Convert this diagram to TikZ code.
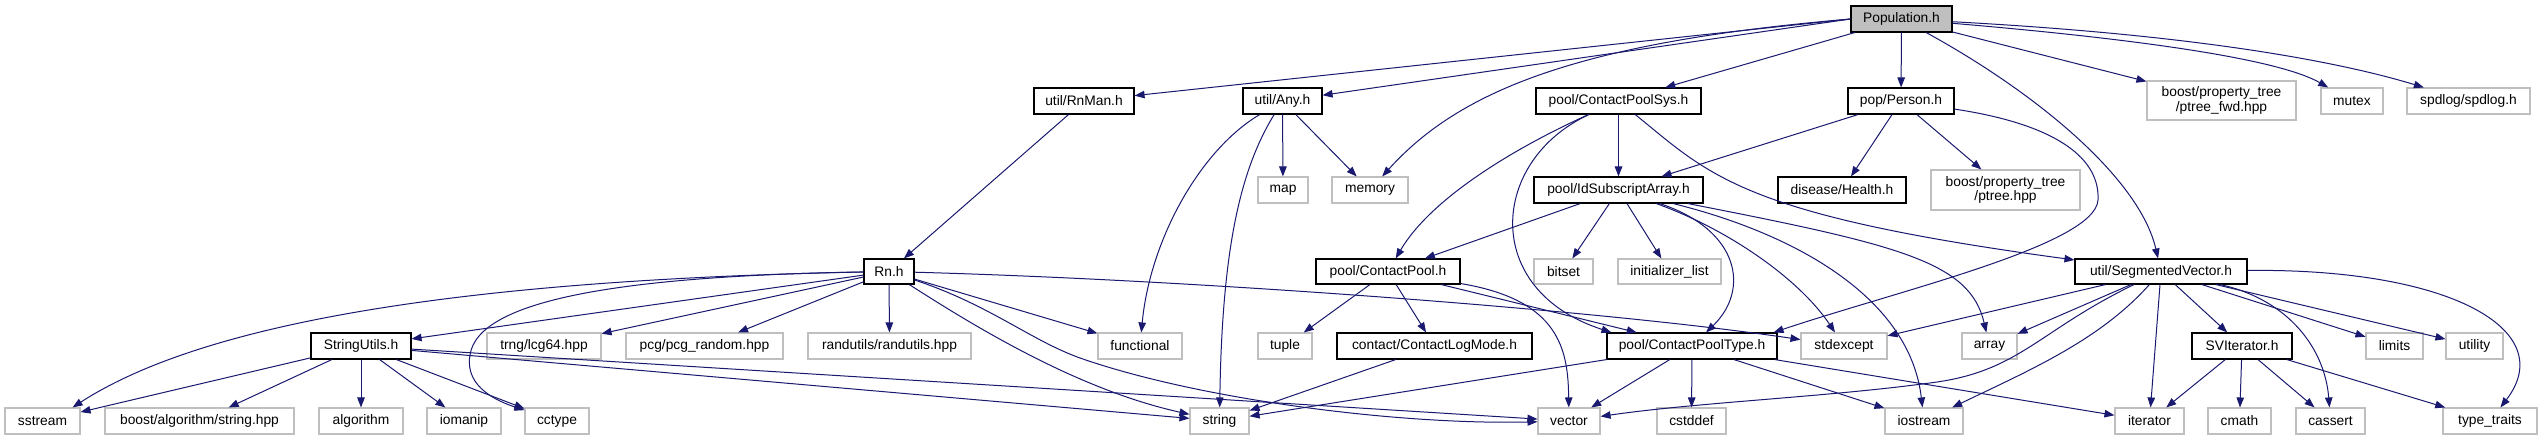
\documentclass[tikz,border=0pt]{standalone}
\usepackage{fontspec}
\setmainfont{Liberation Sans}
\usetikzlibrary{arrows.meta}
\definecolor{edgeblue}{HTML}{191970}
\definecolor{sysgray}{HTML}{BFBFBF}
\begin{document}
\begin{tikzpicture}[x=1pt,y=-1pt,
  box/.style={rectangle, inner sep=0pt, line width=1.1pt, font=\fontsize{13.8pt}{14.5pt}\selectfont, align=center},
  proj/.style={box, draw=black, fill=white},
  sys/.style={box, draw=sysgray, fill=white},
  mainf/.style={box, draw=black, fill=sysgray},
  e/.style={draw=edgeblue, line width=1pt, -{Triangle[length=10pt,width=7.5pt]}},
]
\useasboundingbox[fill=white] (0,0) rectangle (2539,440);
% row 1
\node[mainf, minimum width=101pt, minimum height=26pt] (pop) at (1901.5,19) {Population.h};
% row 2
\node[proj, minimum width=100pt, minimum height=26pt] (rnman) at (1084,101) {util/RnMan.h};
\node[proj, minimum width=79pt, minimum height=26pt] (any) at (1282.5,101) {util/Any.h};
\node[proj, minimum width=165pt, minimum height=26pt] (cps) at (1618.5,101) {pool/ContactPoolSys.h};
\node[proj, minimum width=106pt, minimum height=26pt] (person) at (1901,101) {pop/Person.h};
\node[sys, minimum width=149pt, minimum height=39pt] (ptreefwd) at (2221.5,100.5) {boost/property\_tree\\/ptree\_fwd.hpp};
\node[sys, minimum width=62pt, minimum height=26pt] (mutex) at (2352,101) {mutex};
\node[sys, minimum width=123pt, minimum height=26pt] (spdlog) at (2468.5,101) {spdlog/spdlog.h};
% row 3
\node[sys, minimum width=50pt, minimum height=26pt] (map) at (1283,190) {map};
\node[sys, minimum width=76pt, minimum height=26pt] (memory) at (1370,190) {memory};
\node[proj, minimum width=169pt, minimum height=26pt] (isa) at (1618.5,190) {pool/IdSubscriptArray.h};
\node[proj, minimum width=128pt, minimum height=26pt] (health) at (1842,190) {disease/Health.h};
\node[sys, minimum width=149pt, minimum height=40pt] (ptree) at (2005.5,190) {boost/property\_tree\\/ptree.hpp};
% row 4
\node[proj, minimum width=50pt, minimum height=25pt] (rn) at (889,271.5) {Rn.h};
\node[proj, minimum width=144pt, minimum height=25pt] (cp) at (1388,271.5) {pool/ContactPool.h};
\node[sys, minimum width=59pt, minimum height=25pt] (bitset) at (1563.5,271.5) {bitset};
\node[sys, minimum width=103pt, minimum height=25pt] (initlist) at (1669.5,271.5) {initializer\_list};
\node[proj, minimum width=172pt, minimum height=25pt] (sv) at (2161,271.5) {util/SegmentedVector.h};
% row 5
\node[proj, minimum width=100pt, minimum height=26pt] (su) at (361,346) {StringUtils.h};
\node[sys, minimum width=114pt, minimum height=26pt] (trng) at (544,346) {trng/lcg64.hpp};
\node[sys, minimum width=157pt, minimum height=26pt] (pcg) at (704.5,346) {pcg/pcg\_random.hpp};
\node[sys, minimum width=163pt, minimum height=26pt] (randutils) at (889.5,346) {randutils/randutils.hpp};
\node[sys, minimum width=84pt, minimum height=26pt] (functional) at (1140,346) {functional};
\node[sys, minimum width=54pt, minimum height=26pt] (tuple) at (1285,346) {tuple};
\node[proj, minimum width=195pt, minimum height=26pt] (clm) at (1434.5,346) {contact/ContactLogMode.h};
\node[proj, minimum width=170pt, minimum height=26pt] (cpt) at (1692,346) {pool/ContactPoolType.h};
\node[sys, minimum width=86pt, minimum height=26pt] (stdexcept) at (1844,346) {stdexcept};
\node[sys, minimum width=55pt, minimum height=26pt] (array) at (1989.5,346) {array};
\node[proj, minimum width=100pt, minimum height=26pt] (sviter) at (2242,346) {SVIterator.h};
\node[sys, minimum width=57pt, minimum height=26pt] (limits) at (2394.5,346) {limits};
\node[sys, minimum width=57pt, minimum height=26pt] (utility) at (2474.5,346) {utility};
% row 6
\node[sys, minimum width=75pt, minimum height=26pt] (sstream) at (42.5,421) {sstream};
\node[sys, minimum width=189pt, minimum height=26pt] (boostalg) at (199.5,421) {boost/algorithm/string.hpp};
\node[sys, minimum width=84pt, minimum height=26pt] (algorithm) at (361,421) {algorithm};
\node[sys, minimum width=74pt, minimum height=26pt] (iomanip) at (464,421) {iomanip};
\node[sys, minimum width=64pt, minimum height=26pt] (cctype) at (557,421) {cctype};
\node[sys, minimum width=59pt, minimum height=26pt] (string) at (1219.5,421) {string};
\node[sys, minimum width=62pt, minimum height=26pt] (vector) at (1569,421) {vector};
\node[sys, minimum width=69pt, minimum height=26pt] (cstddef) at (1691.5,421) {cstddef};
\node[sys, minimum width=78pt, minimum height=26pt] (iostream) at (1924,421) {iostream};
\node[sys, minimum width=69pt, minimum height=26pt] (iterator) at (2149.5,421) {iterator};
\node[sys, minimum width=63pt, minimum height=26pt] (cmath) at (2239.5,421) {cmath};
\node[sys, minimum width=69pt, minimum height=26pt] (cassert) at (2330.5,421) {cassert};
\node[sys, minimum width=94pt, minimum height=26pt] (typetraits) at (2490,421) {type\_traits};

% Population.h
\draw[e] (pop.west) -- (rnman);
\draw[e] (pop.west) -- (any);
\draw[e] (pop.west) .. controls (1580,42) and (1460,90) .. (memory);
\draw[e] (pop) -- (cps);
\draw[e] (pop) -- (person);
\draw[e] (pop) .. controls (2040,95) and (2140,180) .. (sv);
\draw[e] (pop) -- (ptreefwd);
\draw[e] (pop) .. controls (2150,40) and (2280,60) .. (mutex);
\draw[e] (pop) .. controls (2200,35) and (2340,62) .. (spdlog);
% row 2 sources
\draw[e] (rnman) -- (rn);
\draw[e] (any) -- (map);
\draw[e] (any) -- (memory);
\draw[e] (any) .. controls (1200,150) and (1150,240) .. (functional);
\draw[e] (any) .. controls (1240,170) and (1222,250) .. (string);
\draw[e] (cps) -- (isa);
\draw[e] (cps) .. controls (1510,150) and (1430,200) .. (cp);
\draw[e] (cps) .. controls (1490,160) and (1480,290) .. ([xshift=5pt]cpt.north west);
\draw[e] (cps) .. controls (1710,175) and (1740,215) .. (sv);
\draw[e] (person) -- (isa);
\draw[e] (person) -- (health);
\draw[e] (person) -- (ptree);
\draw[e] (person) .. controls (2060,125) and (2100,160) .. (2098,200) .. controls (2095,245) and (1900,290) .. ([xshift=-4pt]cpt.north east);
% IdSubscriptArray
\draw[e] (isa) -- (cp);
\draw[e] (isa) -- (bitset);
\draw[e] (isa) -- (initlist);
\draw[e] (isa) .. controls (1740,230) and (1750,290) .. (cpt);
\draw[e] (isa) .. controls (1730,230) and (1800,280) .. (stdexcept);
\draw[e] (isa) .. controls (1800,235) and (1910,300) .. (iostream);
\draw[e] (isa) .. controls (1900,245) and (1970,262) .. (array);
% Rn.h
\draw[e] (rn) -- (su);
\draw[e] (rn) .. controls (450,280) and (200,325) .. ([xshift=-8pt]sstream.north east);
\draw[e] (rn) .. controls (620,276) and (478,300) .. (470,355) .. controls (464,388) and (500,402) .. (cctype);
\draw[e] (rn) -- (trng);
\draw[e] (rn) -- (pcg);
\draw[e] (rn) -- (randutils);
\draw[e] (rn) -- (functional);
\draw[e] (rn) .. controls (980,330) and (1080,390) .. (string);
\draw[e] (rn) .. controls (990,305) and (1030,340) .. (1080,358) .. controls (1200,400) and (1400,425) .. (vector);
\draw[e] (rn) .. controls (1200,280) and (1600,310) .. (stdexcept);
% StringUtils.h
\draw[e] (su) -- (sstream);
\draw[e] (su) -- (boostalg);
\draw[e] (su) -- (algorithm);
\draw[e] (su) -- (iomanip);
\draw[e] (su) -- (cctype);
\draw[e] (su) -- (string);
\draw[e] (su) -- (vector);
% ContactPool.h
\draw[e] (cp) -- (tuple);
\draw[e] (cp) -- (clm);
\draw[e] (cp) .. controls (1560,300) and (1568,350) .. (vector);
\draw[e] (cp) -- (cpt);
\draw[e] (clm) -- (string);
% ContactPoolType.h
\draw[e] (cpt) -- (string);
\draw[e] (cpt) -- (vector);
\draw[e] (cpt) -- (cstddef);
\draw[e] (cpt) -- (iostream);
\draw[e] (cpt) -- (iterator);
% SegmentedVector.h
\draw[e] (sv) -- (stdexcept);
\draw[e] (sv) -- (array);
\draw[e] (sv) .. controls (2100,340) and (2030,370) .. (iostream);
\draw[e] (sv) .. controls (2040,330) and (2020,370) .. (1937,382) .. controls (1830,397) and (1700,402) .. (vector);
\draw[e] (sv) -- (sviter);
\draw[e] (sv) -- (iterator);
\draw[e] (sv) -- (limits);
\draw[e] (sv) -- (utility);
\draw[e] (sv) .. controls (2290,300) and (2325,350) .. (cassert);
\draw[e] (sv) .. controls (2450,268) and (2560,330) .. (typetraits);
% SVIterator.h
\draw[e] (sviter) -- (iterator);
\draw[e] (sviter) -- (cmath);
\draw[e] (sviter) -- (cassert);
\draw[e] (sviter) -- (typetraits);
\end{tikzpicture}
\end{document}
